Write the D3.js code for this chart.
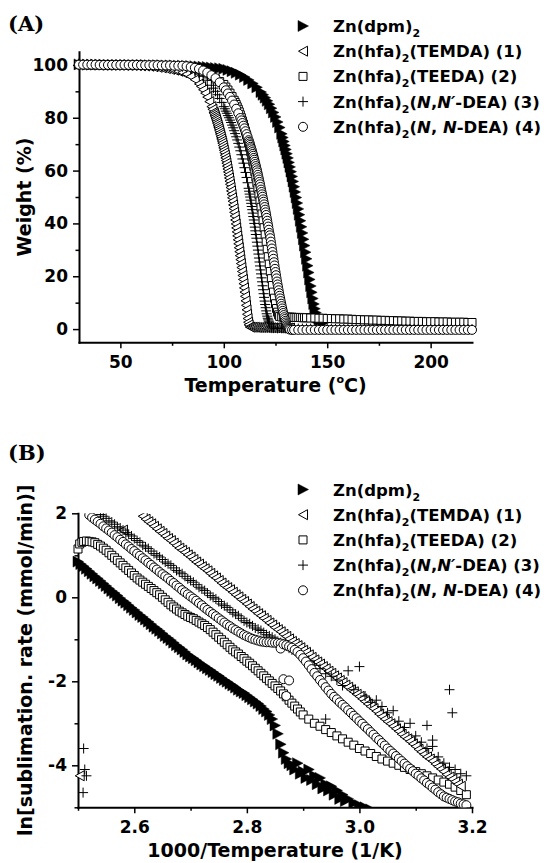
<!DOCTYPE html>
<html>
<head>
<meta charset="utf-8">
<script src="https://cdn.jsdelivr.net/npm/d3@7"></script>
<style>
  body { margin: 0; background: #fff; }
  svg text { font-family: "DejaVu Sans"; font-weight: bold; fill: #000; }
</style>
</head>
<body>
<svg id="fig" width="548" height="863"></svg>
<script>
// ---------- Panel (A): TGA weight loss ----------
var tempTicksA = [50, 100, 150, 200];
var tempMinorA = [75, 125, 175];
var weightTicks = [0, 20, 40, 60, 80, 100];
var weightMinor = [10, 30, 50, 70, 90];

// Zn(dpm)2
var dpmA = [[30,100.2],[32,100.2],[34,100.1],[36,100.1],[38,100.1],[40,100.1],[42,100.1],[44,100],[46,100],[48,100],[50,100],[52,100],[54,100],[56,100],[58,100],[60,100],[62,100],[64,99.9],[66,99.9],[68,99.9],[70,99.9],[72,99.8],[74,99.8],[76,99.8],[78,99.7],[80,99.7],[82,99.6],[84,99.6],[86,99.5],[88,99.4],[90,99.3],[92,99.2],[94,99],[96,98.8],[98,98.7],[100,98.5],[102,98.1],[104,97.6],[106,97],[108,96.3],[110,95.4],[112,94.3],[114,93],[116,91.5],[118,89.7],[119,88.7],[120,87.6],[121,86.4],[122,85.1],[123,83.6],[124,82],[125,80.3],[126,78.4],[127,76.3],[128,73.9],[128.5,72.5],[129,71],[129.5,69.5],[130,68],[130.5,66.4],[131,64.8],[131.5,63.1],[132,61.4],[132.5,59.6],[133,57.8],[133.5,55.9],[134,53.9],[134.5,51.9],[135,49.8],[135.5,47.7],[136,45.5],[136.5,43.3],[137,41],[137.5,38.7],[138,36.4],[138.5,34],[139,31.6],[139.5,29.1],[140,26.6],[140.5,24],[141,21.4],[141.5,18.8],[142,16.3],[142.5,13.9],[143,11.6],[143.5,9.5],[144,7.7],[144.5,6.2],[145,5],[145.5,4.3],[146,3.8],[146.5,3.6],[147,3.4],[148,3.3],[149,3.2],[150,3.2]];

// Zn(hfa)2(TEMDA) (1)
var temdaA = [[30,100.1],[32,100.1],[34,100.1],[36,100],[38,100],[40,100],[42,100],[44,100],[46,100],[48,100],[50,100],[52,99.9],[54,99.9],[56,99.9],[58,99.8],[60,99.7],[62,99.6],[64,99.5],[66,99.3],[68,99.1],[70,98.9],[72,98.6],[74,98.3],[76,98],[78,97.6],[80,97.1],[82,96.5],[84,95.6],[86,94.4],[88,92.8],[89,91.8],[90,90.6],[91,89.3],[92,87.8],[93,86.1],[94,84.2],[94.5,83.2],[95,82.1],[95.25,81.6],[95.5,81],[95.75,80.4],[96,79.8],[96.25,79.2],[96.5,78.5],[96.75,77.9],[97,77.2],[97.25,76.5],[97.5,75.8],[97.75,75.1],[98,74.3],[98.25,73.6],[98.5,72.8],[98.75,72],[99,71.2],[99.25,70.4],[99.5,69.5],[99.75,68.6],[100,67.7],[100.25,66.8],[100.5,65.8],[100.75,64.8],[101,63.8],[101.25,62.8],[101.5,61.7],[101.75,60.6],[102,59.5],[102.25,58.4],[102.5,57.2],[102.75,56],[103,54.8],[103.25,53.6],[103.5,52.3],[103.75,51],[104,49.7],[104.25,48.4],[104.5,47],[104.75,45.6],[105,44.2],[105.25,42.8],[105.5,41.3],[105.75,39.8],[106,38.3],[106.25,36.8],[106.5,35.3],[106.75,33.8],[107,32.3],[107.25,30.8],[107.5,29.3],[107.75,27.8],[108,26.3],[108.25,24.8],[108.5,23.3],[108.75,21.8],[109,20.3],[109.25,18.8],[109.5,17.2],[109.75,15.6],[110,14],[110.25,12.4],[110.5,10.7],[110.75,9],[111,7.3],[111.25,5.6],[111.5,4],[111.75,2.6],[112,1.6],[112.5,0.8],[113,0.7],[114,0.7],[115,0.7],[116,0.6],[117,0.6],[118,0.6],[119,0.6],[120,0.6],[121,0.5],[122,0.5],[123,0.5],[124,0.5],[125,0.5],[126,0.5],[127,0.4],[128,0.4],[129,0.4],[130,0.4],[131,0.4],[132,0.4]];

// Zn(hfa)2(TEEDA) (2)
var teedaA = [[30,100.1],[32,100.1],[34,100],[36,100],[38,100],[40,100],[42,100],[44,100],[46,100],[48,100],[50,100],[52,100],[54,99.9],[56,99.9],[58,99.9],[60,99.9],[62,99.8],[64,99.8],[66,99.8],[68,99.7],[70,99.7],[72,99.6],[74,99.6],[76,99.5],[78,99.5],[80,99.4],[82,99.2],[84,98.9],[86,98.5],[88,98],[90,97.4],[92,96.6],[94,95.7],[96,94.7],[98,93.7],[100,92.6],[101,91.6],[102,90.5],[103,89.3],[104,88],[105,86.6],[105.5,85.8],[106,85],[106.5,84.1],[107,83.2],[107.5,82.2],[108,81.1],[108.5,80],[109,78.8],[109.5,77.6],[110,76.3],[110.5,74.9],[111,73.5],[111.5,72],[112,70.4],[112.5,68.8],[113,67.1],[113.5,65.3],[114,63.5],[114.5,61.6],[115,59.6],[115.5,57.5],[116,55.4],[116.5,53.2],[117,50.9],[117.5,48.5],[118,46.1],[118.5,43.6],[119,41],[119.5,38.4],[120,35.7],[120.5,33],[121,30.2],[121.5,27.4],[122,24.6],[122.5,21.8],[123,19.1],[123.5,16.5],[124,14],[124.5,11.7],[125,9.6],[125.5,7.8],[126,6.4],[126.5,5.4],[127,4.8],[128,4.6],[129,4.5],[130,4.5],[131,4.5],[132,4.5],[133,4.5],[134,4.4],[135,4.4],[136,4.4],[137,4.4],[138,4.3],[139,4.3],[140,4.3],[142,4.2],[144,4.2],[146,4.1],[148,4.1],[150,4],[152,4],[154,3.9],[156,3.9],[158,3.8],[160,3.8],[162,3.7],[164,3.6],[166,3.6],[168,3.5],[170,3.5],[172,3.4],[174,3.4],[176,3.3],[178,3.3],[180,3.2],[182,3.2],[184,3.1],[186,3.1],[188,3],[190,3],[192,2.9],[194,2.9],[196,2.9],[198,2.8],[200,2.8],[202,2.8],[204,2.7],[206,2.7],[208,2.7],[210,2.6],[212,2.6],[214,2.6],[216,2.6],[218,2.5],[220,2.5]];

// Zn(hfa)2(N,N'-DEA) (3)
var ndeaA = [[30,100.1],[32,100.1],[34,100.1],[36,100.1],[38,100],[40,100],[42,100],[44,100],[46,100],[48,100],[50,100],[52,100],[54,99.9],[56,99.9],[58,99.9],[60,99.9],[62,99.8],[64,99.8],[66,99.7],[68,99.7],[70,99.6],[72,99.6],[74,99.5],[76,99.5],[78,99.4],[80,99.3],[82,99],[84,98.5],[86,97.8],[88,96.9],[90,95.7],[92,94.2],[94,92.3],[95,91.2],[96,90],[97,88.7],[98,87.3],[99,85.8],[100,84.2],[100.5,83.4],[101,82.5],[101.5,81.7],[102,80.8],[102.5,80],[103,79.1],[103.5,78.2],[104,77.2],[104.5,76.2],[105,75.1],[105.5,74],[106,72.8],[106.5,71.6],[107,70.3],[107.5,68.9],[108,67.5],[108.5,66],[109,64.4],[109.5,62.8],[110,61.1],[110.5,59.3],[111,57.4],[111.5,55.4],[112,53.3],[112.25,52.2],[112.5,51.1],[112.75,50],[113,48.8],[113.25,47.6],[113.5,46.4],[113.75,45.2],[114,43.9],[114.25,42.6],[114.5,41.3],[114.75,40],[115,38.6],[115.25,37.2],[115.5,35.8],[115.75,34.4],[116,32.9],[116.25,31.4],[116.5,29.9],[116.75,28.4],[117,26.9],[117.25,25.4],[117.5,23.9],[117.75,22.4],[118,20.9],[118.25,19.4],[118.5,17.9],[118.75,16.4],[119,14.9],[119.25,13.4],[119.5,12],[119.75,10.6],[120,9.3],[120.25,8.1],[120.5,6.9],[120.75,5.8],[121,4.9],[121.25,4.1],[121.5,3.5],[121.75,3],[122,2.6],[123,0.8],[124,0.4],[126,0.3],[128,0.3],[130,0.3],[132,0.2],[134,0.2],[136,0.2],[138,0.2],[140,0.2],[142,0.2],[144,0.2],[146,0.2],[148,0.2],[150,0.2],[152,0.2],[154,0.1],[156,0.1],[158,0.1],[160,0.1],[162,0.1],[164,0.1],[166,0.1],[168,0.1],[170,0.1],[172,0.1],[174,0.1],[176,0.1],[178,0.1],[180,0.1],[182,0],[184,0],[186,0],[188,0],[190,0],[192,0],[194,0],[196,0],[198,0],[200,0],[202,0],[204,0],[206,0],[208,0],[210,0],[212,0],[214,0],[216,0],[218,0],[220,0]];

// Zn(hfa)2(N,N-DEA) (4)
var nndeaA = [[30,100.1],[32,100.1],[34,100.1],[36,100.1],[38,100.1],[40,100],[42,100],[44,100],[46,100],[48,100],[50,100],[52,100],[54,100],[56,100],[58,100],[60,99.9],[62,99.9],[64,99.9],[66,99.9],[68,99.9],[70,99.8],[72,99.8],[74,99.8],[76,99.7],[78,99.7],[80,99.7],[82,99.5],[84,99.2],[86,98.9],[88,98.5],[90,97.9],[92,97.1],[94,96.1],[96,95],[98,93.4],[100,91.5],[101,90.4],[102,89.2],[103,87.9],[104,86.5],[105,85],[106,83.4],[107,81.7],[108,79.9],[108.5,79],[109,78],[109.5,77],[110,76],[110.5,74.9],[111,73.8],[111.5,72.7],[112,71.5],[112.25,70.9],[112.5,70.3],[112.75,69.7],[113,69],[113.25,68.4],[113.5,67.7],[113.75,67],[114,66.3],[114.25,65.6],[114.5,64.8],[114.75,64.1],[115,63.3],[115.25,62.5],[115.5,61.7],[115.75,60.9],[116,60.1],[116.25,59.3],[116.5,58.4],[116.75,57.5],[117,56.6],[117.25,55.7],[117.5,54.8],[117.75,53.8],[118,52.8],[118.25,51.9],[118.5,51],[118.75,50.1],[119,49.1],[119.25,48.2],[119.5,47.2],[119.75,46.2],[120,45.2],[120.25,44.2],[120.5,43.2],[120.75,42.1],[121,41],[121.25,39.9],[121.5,38.8],[121.75,37.6],[122,36.4],[122.25,35.5],[122.5,34.4],[122.75,33.1],[123,31.8],[123.25,30.5],[123.5,29.2],[123.75,27.9],[124,26.6],[124.25,25.3],[124.5,24.1],[124.75,22.8],[125,21.6],[125.25,20.4],[125.5,19.2],[125.75,18],[126,16.9],[126.25,15.8],[126.5,14.7],[126.75,13.6],[127,12.6],[127.25,11.6],[127.5,10.6],[127.75,9.6],[128,8.7],[128.25,7.8],[128.5,6.9],[128.75,6.1],[129,5.3],[129.25,4.5],[129.5,3.8],[129.75,3.1],[130,2.5],[130.25,1.9],[130.5,1.4],[130.75,1],[131,0.6],[131.25,0.3],[131.5,0.1],[132,-0.2],[133,-0.3],[134,-0.3],[136,-0.3],[138,-0.3],[140,-0.3],[142,-0.3],[144,-0.3],[146,-0.3],[148,-0.3],[150,-0.3],[152,-0.3],[154,-0.3],[156,-0.3],[158,-0.3],[160,-0.3],[162,-0.3],[164,-0.3],[166,-0.3],[168,-0.3],[170,-0.3],[172,-0.3],[174,-0.3],[176,-0.3],[178,-0.3],[180,-0.3],[182,-0.3],[184,-0.3],[186,-0.3],[188,-0.3],[190,-0.3],[192,-0.3],[194,-0.3],[196,-0.3],[198,-0.3],[200,-0.3],[202,-0.3],[204,-0.3],[206,-0.3],[208,-0.3],[210,-0.3],[212,-0.3],[214,-0.3],[216,-0.3],[218,-0.3],[220,-0.3]];

// ---------- Panel (B): ln(sublimation rate) vs 1000/T ----------
var invTempTicks = [2.6, 2.8, 3.0, 3.2];
var invTempMinor = [2.5, 2.7, 2.9, 3.1];
var lnRateTicks = [-4, -2, 0, 2];
var lnRateMinor = [-5, -3, -1, 1];

var dpmB = [[2.5,0.85],[2.505,0.79],[2.51,0.74],[2.515,0.68],[2.52,0.62],[2.525,0.56],[2.53,0.5],[2.535,0.45],[2.54,0.39],[2.545,0.33],[2.55,0.27],[2.555,0.21],[2.56,0.15],[2.565,0.1],[2.57,0.04],[2.575,-0.02],[2.58,-0.08],[2.585,-0.13],[2.59,-0.19],[2.595,-0.25],[2.6,-0.3],[2.605,-0.36],[2.61,-0.42],[2.615,-0.47],[2.62,-0.53],[2.625,-0.58],[2.63,-0.64],[2.635,-0.7],[2.64,-0.75],[2.645,-0.8],[2.65,-0.86],[2.655,-0.92],[2.66,-0.97],[2.665,-1.02],[2.67,-1.08],[2.675,-1.14],[2.68,-1.19],[2.685,-1.24],[2.69,-1.3],[2.695,-1.36],[2.7,-1.41],[2.705,-1.45],[2.71,-1.5],[2.715,-1.55],[2.72,-1.6],[2.725,-1.64],[2.73,-1.69],[2.735,-1.73],[2.74,-1.78],[2.745,-1.83],[2.75,-1.87],[2.755,-1.92],[2.76,-1.97],[2.765,-2.01],[2.77,-2.06],[2.775,-2.1],[2.78,-2.15],[2.785,-2.2],[2.79,-2.24],[2.795,-2.28],[2.8,-2.33],[2.805,-2.38],[2.81,-2.43],[2.815,-2.48],[2.82,-2.53],[2.825,-2.59],[2.83,-2.66],[2.835,-2.72],[2.84,-2.8],[2.845,-2.9],[2.85,-3.05],[2.855,-3.25],[2.86,-3.5],[2.865,-3.7],[2.87,-3.85],[2.875,-3.95],[2.88,-4.0],[2.885,-4.1],[2.89,-3.95],[2.895,-4.2],[2.9,-4.15],[2.905,-4.3],[2.91,-4.1],[2.915,-4.35],[2.92,-4.25],[2.925,-4.45],[2.93,-4.3],[2.935,-4.55],[2.94,-4.45],[2.945,-4.6],[2.95,-4.5],[2.955,-4.7],[2.96,-4.6],[2.965,-4.8],[2.97,-4.7],[2.975,-4.85],[2.98,-4.8],[2.99,-4.9],[3.0,-4.95],[3.01,-5.0],[3.02,-5.05]];

var temdaB = [[2.503,-4.25],[2.58,1.6],[2.615,1.93],[2.62,1.86],[2.625,1.8],[2.63,1.75],[2.635,1.69],[2.64,1.63],[2.645,1.57],[2.65,1.52],[2.655,1.46],[2.66,1.4],[2.665,1.35],[2.67,1.29],[2.675,1.23],[2.68,1.17],[2.685,1.12],[2.69,1.07],[2.695,1.01],[2.7,0.96],[2.705,0.9],[2.71,0.84],[2.715,0.79],[2.72,0.73],[2.725,0.68],[2.73,0.63],[2.735,0.57],[2.74,0.51],[2.745,0.46],[2.75,0.4],[2.755,0.34],[2.76,0.28],[2.765,0.23],[2.77,0.18],[2.775,0.12],[2.78,0.06],[2.785,0.01],[2.79,-0.05],[2.795,-0.1],[2.8,-0.16],[2.805,-0.22],[2.81,-0.28],[2.815,-0.33],[2.82,-0.39],[2.825,-0.44],[2.83,-0.5],[2.835,-0.55],[2.84,-0.61],[2.845,-0.66],[2.85,-0.72],[2.855,-0.77],[2.86,-0.82],[2.865,-0.88],[2.87,-0.93],[2.875,-0.99],[2.88,-1.05],[2.885,-1.1],[2.89,-1.15],[2.895,-1.2],[2.9,-1.26],[2.905,-1.31],[2.91,-1.37],[2.915,-1.43],[2.92,-1.49],[2.925,-1.54],[2.93,-1.59],[2.935,-1.65],[2.94,-1.7],[2.945,-1.76],[2.95,-1.81],[2.955,-1.87],[2.96,-1.92],[2.965,-1.98],[2.97,-2.03],[2.975,-2.09],[2.98,-2.14],[2.985,-2.2],[2.99,-2.25],[2.995,-2.31],[3.0,-2.36],[3.005,-2.42],[3.01,-2.48],[3.015,-2.54],[3.02,-2.6],[3.025,-2.65],[3.03,-2.71],[3.035,-2.78],[3.04,-2.84],[3.045,-2.9],[3.05,-2.96],[3.055,-3.01],[3.06,-3.07],[3.065,-3.13],[3.07,-3.19],[3.075,-3.26],[3.08,-3.32],[3.085,-3.37],[3.09,-3.43],[3.095,-3.49],[3.1,-3.55],[3.105,-3.62],[3.11,-3.68],[3.115,-3.74],[3.12,-3.8],[3.125,-3.85],[3.13,-3.9],[3.135,-3.97],[3.14,-4.03],[3.145,-4.09],[3.15,-4.15],[3.155,-4.22],[3.16,-4.28],[3.165,-4.33],[3.17,-4.39],[3.175,-4.45],[3.18,-4.5]];

var teedaB = [[2.5,1.15],[2.503,1.27],[2.507,1.31],[2.51,1.33],[2.515,1.34],[2.52,1.33],[2.525,1.32],[2.53,1.3],[2.535,1.26],[2.54,1.22],[2.545,1.17],[2.55,1.12],[2.555,1.06],[2.56,1.0],[2.565,0.94],[2.57,0.88],[2.575,0.82],[2.58,0.76],[2.585,0.7],[2.59,0.64],[2.595,0.58],[2.6,0.52],[2.605,0.46],[2.61,0.41],[2.615,0.36],[2.62,0.31],[2.625,0.26],[2.63,0.21],[2.635,0.16],[2.64,0.11],[2.645,0.06],[2.65,0.0],[2.655,-0.06],[2.66,-0.12],[2.665,-0.18],[2.67,-0.23],[2.675,-0.28],[2.68,-0.33],[2.685,-0.37],[2.69,-0.41],[2.695,-0.45],[2.7,-0.48],[2.705,-0.51],[2.71,-0.55],[2.715,-0.59],[2.72,-0.63],[2.725,-0.67],[2.73,-0.72],[2.735,-0.77],[2.74,-0.83],[2.745,-0.89],[2.75,-0.95],[2.755,-1.01],[2.76,-1.07],[2.765,-1.13],[2.77,-1.19],[2.775,-1.25],[2.78,-1.3],[2.785,-1.35],[2.79,-1.41],[2.795,-1.46],[2.8,-1.52],[2.805,-1.57],[2.81,-1.63],[2.815,-1.69],[2.82,-1.75],[2.825,-1.81],[2.83,-1.87],[2.835,-1.93],[2.84,-1.99],[2.845,-2.05],[2.85,-2.11],[2.855,-2.17],[2.86,-2.23],[2.865,-2.3],[2.87,-2.37],[2.875,-2.45],[2.88,-2.52],[2.885,-2.59],[2.89,-2.66],[2.895,-2.73],[2.9,-2.8],[2.91,-2.9],[2.92,-3.0],[2.93,-3.07],[2.94,-3.15],[2.95,-3.22],[2.96,-3.3],[2.97,-3.37],[2.98,-3.45],[2.99,-3.52],[3.0,-3.6],[3.01,-3.66],[3.02,-3.72],[3.03,-3.79],[3.04,-3.85],[3.05,-3.9],[3.06,-3.95],[3.07,-4.0],[3.08,-4.05],[3.09,-4.1],[3.1,-4.15],[3.11,-4.2],[3.12,-4.25],[3.13,-4.3],[3.14,-4.35],[3.15,-4.4],[3.16,-4.45],[3.17,-4.52],[3.18,-4.6],[3.19,-4.7]];

var ndeaB = [[2.509,-4.65],[2.51,-3.6],[2.512,-4.1],[2.515,-4.25],[2.54,1.97],[2.545,1.93],[2.55,1.88],[2.555,1.82],[2.56,1.79],[2.565,1.74],[2.57,1.68],[2.575,1.65],[2.58,1.6],[2.585,1.54],[2.59,1.5],[2.595,1.46],[2.6,1.4],[2.605,1.35],[2.61,1.31],[2.615,1.24],[2.62,1.2],[2.625,1.16],[2.63,1.1],[2.635,1.04],[2.64,1.0],[2.645,0.96],[2.65,0.9],[2.655,0.84],[2.66,0.8],[2.665,0.76],[2.67,0.7],[2.675,0.64],[2.68,0.6],[2.685,0.56],[2.69,0.5],[2.695,0.44],[2.7,0.4],[2.705,0.36],[2.71,0.3],[2.715,0.24],[2.72,0.2],[2.725,0.16],[2.73,0.1],[2.735,0.04],[2.74,0.0],[2.745,-0.04],[2.75,-0.1],[2.755,-0.16],[2.76,-0.2],[2.765,-0.24],[2.77,-0.3],[2.775,-0.36],[2.78,-0.4],[2.785,-0.44],[2.79,-0.5],[2.795,-0.56],[2.8,-0.6],[2.805,-0.63],[2.81,-0.68],[2.815,-0.73],[2.82,-0.76],[2.825,-0.79],[2.83,-0.84],[2.835,-0.89],[2.84,-0.92],[2.845,-0.95],[2.85,-1.0],[2.855,-1.05],[2.86,-1.08],[2.865,-1.11],[2.87,-1.16],[2.875,-1.21],[2.88,-1.25],[2.885,-1.27],[2.89,-1.3],[2.895,-1.36],[2.9,-1.42],[2.91,-1.5],[2.92,-1.62],[2.93,-1.7],[2.94,-1.82],[2.94,-2.9],[2.95,-1.88],[2.96,-1.97],[2.97,-2.1],[2.98,-1.75],[2.99,-2.2],[3.0,-1.65],[3.01,-2.35],[3.02,-2.5],[3.03,-2.45],[3.04,-2.6],[3.05,-2.75],[3.06,-2.7],[3.07,-2.95],[3.08,-3.1],[3.09,-3.0],[3.1,-3.3],[3.11,-3.45],[3.12,-3.6],[3.12,-3.05],[3.13,-3.55],[3.13,-3.4],[3.14,-3.8],[3.15,-3.95],[3.16,-4.05],[3.16,-2.2],[3.165,-2.75],[3.17,-4.1],[3.18,-4.2],[3.19,-4.25]];

var nndeaB = [[2.52,1.96],[2.525,1.9],[2.53,1.85],[2.535,1.8],[2.54,1.75],[2.545,1.69],[2.55,1.64],[2.555,1.59],[2.56,1.54],[2.565,1.48],[2.57,1.43],[2.575,1.37],[2.58,1.32],[2.585,1.26],[2.59,1.21],[2.595,1.15],[2.6,1.1],[2.605,1.04],[2.61,0.99],[2.615,0.93],[2.62,0.88],[2.625,0.82],[2.63,0.77],[2.635,0.71],[2.64,0.66],[2.645,0.6],[2.65,0.55],[2.655,0.5],[2.66,0.45],[2.665,0.39],[2.67,0.34],[2.675,0.28],[2.68,0.23],[2.685,0.17],[2.69,0.12],[2.695,0.07],[2.7,0.02],[2.705,-0.03],[2.71,-0.08],[2.715,-0.14],[2.72,-0.19],[2.725,-0.25],[2.73,-0.3],[2.735,-0.35],[2.74,-0.4],[2.745,-0.45],[2.75,-0.5],[2.755,-0.55],[2.76,-0.6],[2.765,-0.65],[2.77,-0.69],[2.775,-0.74],[2.78,-0.78],[2.785,-0.82],[2.79,-0.86],[2.795,-0.9],[2.8,-0.93],[2.805,-0.96],[2.81,-0.99],[2.815,-1.01],[2.82,-1.03],[2.825,-1.05],[2.83,-1.06],[2.835,-1.07],[2.84,-1.07],[2.845,-1.08],[2.85,-1.08],[2.855,-1.09],[2.86,-1.1],[2.86,-1.22],[2.865,-1.95],[2.87,-2.35],[2.875,-1.98],[2.865,-1.12],[2.87,-1.14],[2.875,-1.17],[2.88,-1.2],[2.885,-1.25],[2.89,-1.3],[2.895,-1.37],[2.9,-1.45],[2.905,-1.53],[2.91,-1.62],[2.915,-1.71],[2.92,-1.8],[2.925,-1.88],[2.93,-1.97],[2.935,-2.05],[2.94,-2.14],[2.945,-2.22],[2.95,-2.3],[2.955,-2.37],[2.96,-2.43],[2.965,-2.5],[2.97,-2.56],[2.975,-2.62],[2.98,-2.69],[2.985,-2.75],[2.99,-2.82],[2.995,-2.88],[3.0,-2.95],[3.005,-3.01],[3.01,-3.08],[3.015,-3.14],[3.02,-3.21],[3.025,-3.27],[3.03,-3.34],[3.035,-3.4],[3.04,-3.47],[3.045,-3.53],[3.05,-3.6],[3.055,-3.66],[3.06,-3.72],[3.065,-3.78],[3.07,-3.84],[3.075,-3.9],[3.08,-3.96],[3.085,-4.02],[3.09,-4.08],[3.095,-4.14],[3.1,-4.2],[3.105,-4.25],[3.11,-4.31],[3.115,-4.36],[3.12,-4.42],[3.125,-4.47],[3.13,-4.53],[3.135,-4.58],[3.14,-4.64],[3.145,-4.69],[3.15,-4.74],[3.155,-4.77],[3.16,-4.8],[3.165,-4.83],[3.17,-4.86],[3.175,-4.88],[3.18,-4.91],[3.185,-4.93],[3.19,-4.95]];

// legend labels: [text, style]
var labelDpm = [["Zn(dpm)", ""], ["2", "sub"]];
var labelTemda = [["Zn(hfa)", ""], ["2", "sub"], ["(TEMDA) (1)", ""]];
var labelTeeda = [["Zn(hfa)", ""], ["2", "sub"], ["(TEEDA) (2)", ""]];
var labelNdea = [["Zn(hfa)", ""], ["2", "sub"], ["(", ""], ["N", "it"], [",", ""], ["N\u2032", "it"], ["-DEA) (3)", ""]];
var labelNndea = [["Zn(hfa)", ""], ["2", "sub"], ["(", ""], ["N", "it"], [", ", ""], ["N", "it"], ["-DEA) (4)", ""]];

var svg = d3.select("#fig");

// marker shapes
function markerPath(kind) {
  if (kind === "triR") return "M-5,-5.5L5.5,0L-5,5.5Z";
  if (kind === "triL") return "M-4.5,0L4.5,-5L4.5,5Z";
  if (kind === "square") return "M-4,-4H4V4H-4Z";
  if (kind === "plus") return "M-5,0H5M0,-5V5";
  return "M4.5,0A4.5,4.5 0 1,1 -4.5,0A4.5,4.5 0 1,1 4.5,0Z";
}
function markerStyle(sel, kind) {
  sel.attr("d", markerPath(kind))
    .attr("fill", kind === "triR" ? "#000" : (kind === "plus" ? "none" : "#fff"))
    .attr("stroke", "#000")
    .attr("stroke-width", kind === "triR" ? 0.5 : 1);
}

function styleAxis(g, size) {
  g.attr("font-family", "DejaVu Sans").attr("font-size", size).attr("font-weight", "bold");
  g.select(".domain").attr("stroke-width", 2).attr("stroke-linecap", "square");
  g.selectAll(".tick line").attr("stroke-width", 1.5);
  g.selectAll(".tick text").attr("fill", "#000");
}

function drawPanel(p) {
  var x = d3.scaleLinear().domain(p.xDomain).range([p.left, p.right]);
  var y = d3.scaleLinear().domain(p.yDomain).range([p.bottom, p.top]);

  // axes (drawn first, markers sit on top)
  var gx = svg.append("g").attr("transform", `translate(0,${p.bottom})`)
    .call(d3.axisBottom(x).tickValues(p.xTicks).tickSize(6).tickSizeOuter(0).tickPadding(8).tickFormat(p.xFormat));
  styleAxis(gx, 17);
  svg.append("g").attr("transform", `translate(0,${p.bottom})`)
    .call(d3.axisBottom(x).tickValues(p.xMinor).tickSize(3.5).tickFormat(""))
    .call(g => g.select(".domain").remove())
    .selectAll("line").attr("stroke-width", 1.5);

  var gy = svg.append("g").attr("transform", `translate(${p.left},0)`)
    .call(d3.axisLeft(y).tickValues(p.yTicks).tickSize(6).tickSizeOuter(0).tickPadding(5)
      .tickFormat(d => String(d)));
  styleAxis(gy, 17);
  svg.append("g").attr("transform", `translate(${p.left},0)`)
    .call(d3.axisLeft(y).tickValues(p.yMinor).tickSize(3.5).tickFormat(""))
    .call(g => g.select(".domain").remove())
    .selectAll("line").attr("stroke-width", 1.5);

  // data markers clipped to the value range
  svg.append("clipPath").attr("id", "clip" + p.id).append("rect")
    .attr("x", 0).attr("y", p.top).attr("width", 548).attr("height", p.bottom - p.top);
  var plot = svg.append("g").attr("clip-path", `url(#clip${p.id})`);
  p.series.forEach(function (s) {
    plot.append("g").selectAll("path").data(s.data).join("path")
      .attr("transform", d => `translate(${x(d[0])},${y(d[1])})`)
      .call(markerStyle, s.sym);
  });

  // axis titles
  svg.append("text").attr("x", (p.left + p.right) / 2).attr("y", p.xTitleY)
    .attr("text-anchor", "middle").attr("font-size", 19)
    .call(p.xTitle);
  svg.append("text").attr("transform", `translate(${p.yTitleX},${(p.top + p.bottom) / 2}) rotate(-90)`)
    .attr("text-anchor", "middle").attr("font-size", 19)
    .text(p.yTitle);

  // panel letter
  svg.append("text").attr("x", 8).attr("y", p.letterY)
    .style("font-family", "DejaVu Serif").attr("font-size", 21)
    .text(p.letter);

  // legend
  p.series.slice().sort((a, b) => a.order - b.order).forEach(function (s, i) {
    var cy = p.legendY + i * 25.2;
    svg.append("path").attr("transform", `translate(303,${cy})`).call(markerStyle, s.sym);
    var t = svg.append("text").attr("x", 333).attr("y", cy + 6).attr("font-size", 16.5);
    var shift = 0;
    s.label.forEach(function (part) {
      var ts = t.append("tspan").text(part[0]);
      if (part[1] === "sub") {
        ts.attr("font-size", 11).attr("dy", 5);
        shift = 5;
      } else {
        if (shift) { ts.attr("dy", -shift); shift = 0; }
        if (part[1] === "it") ts.attr("font-style", "italic");
      }
    });
  });
}

drawPanel({
  id: "A", letter: "(A)", letterY: 31,
  xDomain: [30, 220], yDomain: [-5, 105],
  left: 79, right: 472, top: 51.7, bottom: 342.3,
  xTicks: tempTicksA, xMinor: tempMinorA, xFormat: d3.format("d"),
  yTicks: weightTicks, yMinor: weightMinor,
  xTitleY: 392,
  xTitle: t => {
    t.append("tspan").text("Temperature (");
    t.append("tspan").text("o").attr("font-size", 11).attr("dy", -9);
    t.append("tspan").text("C)").attr("dy", 9);
  },
  yTitleX: 31, yTitle: "Weight (%)",
  legendY: 26,
  series: [
    { data: dpmA, sym: "triR", label: labelDpm, order: 0 },
    { data: teedaA, sym: "square", label: labelTeeda, order: 2 },
    { data: temdaA, sym: "triL", label: labelTemda, order: 1 },
    { data: ndeaA, sym: "plus", label: labelNdea, order: 3 },
    { data: nndeaA, sym: "circle", label: labelNndea, order: 4 }
  ]
});

drawPanel({
  id: "B", letter: "(B)", letterY: 460,
  xDomain: [2.5, 3.2], yDomain: [-5, 2],
  left: 78, right: 472, top: 513.3, bottom: 807.3,
  xTicks: invTempTicks, xMinor: invTempMinor, xFormat: d3.format(".1f"),
  yTicks: lnRateTicks, yMinor: lnRateMinor,
  xTitleY: 857,
  xTitle: t => t.text("1000/Temperature (1/K)"),
  yTitleX: 32, yTitle: "ln[sublimation. rate (mmol/min)]",
  legendY: 489.5,
  series: [
    { data: dpmB, sym: "triR", label: labelDpm, order: 0 },
    { data: teedaB, sym: "square", label: labelTeeda, order: 2 },
    { data: temdaB, sym: "triL", label: labelTemda, order: 1 },
    { data: ndeaB, sym: "plus", label: labelNdea, order: 3 },
    { data: nndeaB, sym: "circle", label: labelNndea, order: 4 }
  ]
});
</script>
</body>
</html>
